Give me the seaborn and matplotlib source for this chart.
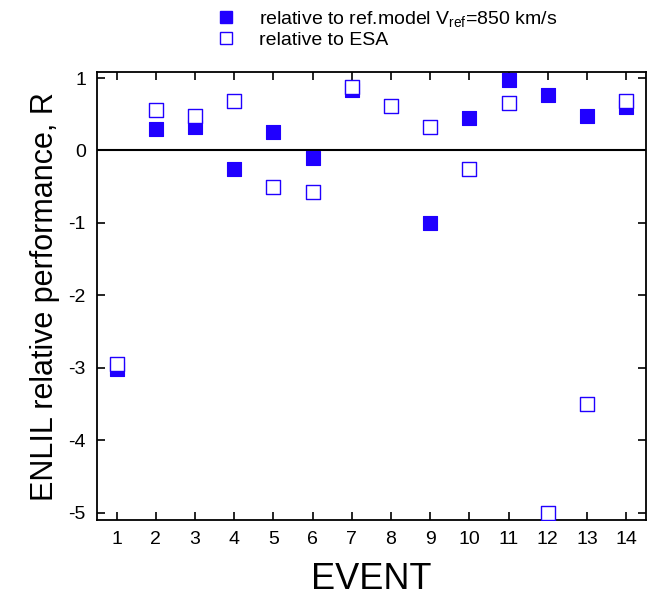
import numpy as np
import pandas as pd
import matplotlib
matplotlib.use('Agg')
import matplotlib.pyplot as plt
import seaborn as sns

# event numbers and relative performance R
events = list(range(1, 15))
r_ref_model = [-3.02, 0.30, 0.33, -0.25, 0.25, -0.10, 0.83, np.nan, -1.00, 0.45, 0.97, 0.76, 0.47, 0.60]
r_esa = [-2.95, 0.56, 0.48, 0.68, -0.50, -0.57, 0.88, 0.62, 0.33, -0.25, 0.66, -5.00, -3.50, 0.68]

df = pd.DataFrame({'EVENT': events, 'ref': r_ref_model, 'esa': r_esa})

sns.set_style('ticks')
plt.rcParams['font.family'] = ['Liberation Sans', 'DejaVu Sans']
plt.rcParams['mathtext.default'] = 'regular'
plt.rcParams['axes.unicode_minus'] = False
plt.rcParams['text.color'] = 'black'
plt.rcParams['axes.labelcolor'] = 'black'
plt.rcParams['xtick.color'] = 'black'
plt.rcParams['ytick.color'] = 'black'

blue = '#2000ff'

fig = plt.figure(figsize=(6.51, 5.97), dpi=100)
ax = fig.add_axes([0.149, 0.129, 0.843, 0.750])

ax.axhline(0, color='black', lw=1.5, zorder=1)

sns.scatterplot(data=df, x='EVENT', y='ref', marker='s', s=90, color=blue,
                edgecolor=blue, linewidth=0.8, ax=ax, zorder=3)
sns.scatterplot(data=df, x='EVENT', y='esa', marker='s', s=90, facecolor='white',
                edgecolor=blue, linewidth=1.0, ax=ax, zorder=4)

ax.set_xlim(0.5, 14.5)
ax.set_ylim(-5.1, 1.08)
ax.set_xticks(events)
ax.set_yticks([1, 0, -1, -2, -3, -4, -5])
ax.tick_params(direction='in', top=True, right=True, length=6, width=1.2,
               labelsize=14, pad=8)
for sp in ax.spines.values():
    sp.set_linewidth(1.3)
    sp.set_color('black')

ax.set_xlabel('EVENT', fontsize=26, labelpad=10)
ax.set_ylabel('ENLIL relative performance, R', fontsize=22, labelpad=6)

h1 = plt.Line2D([], [], ls='none', marker='s', ms=9, color=blue, mec=blue)
h2 = plt.Line2D([], [], ls='none', marker='s', ms=9, mfc='white', mec=blue)
fig.legend([h1, h2], ['relative to ref.model V$_{ref}$=850 km/s', 'relative to ESA'],
           loc='upper left', bbox_to_anchor=(0.30, 1.005), frameon=False,
           fontsize=14, handletextpad=0.7, labelspacing=0.15, borderaxespad=0.2)

fig.savefig('out.png', dpi=100)
